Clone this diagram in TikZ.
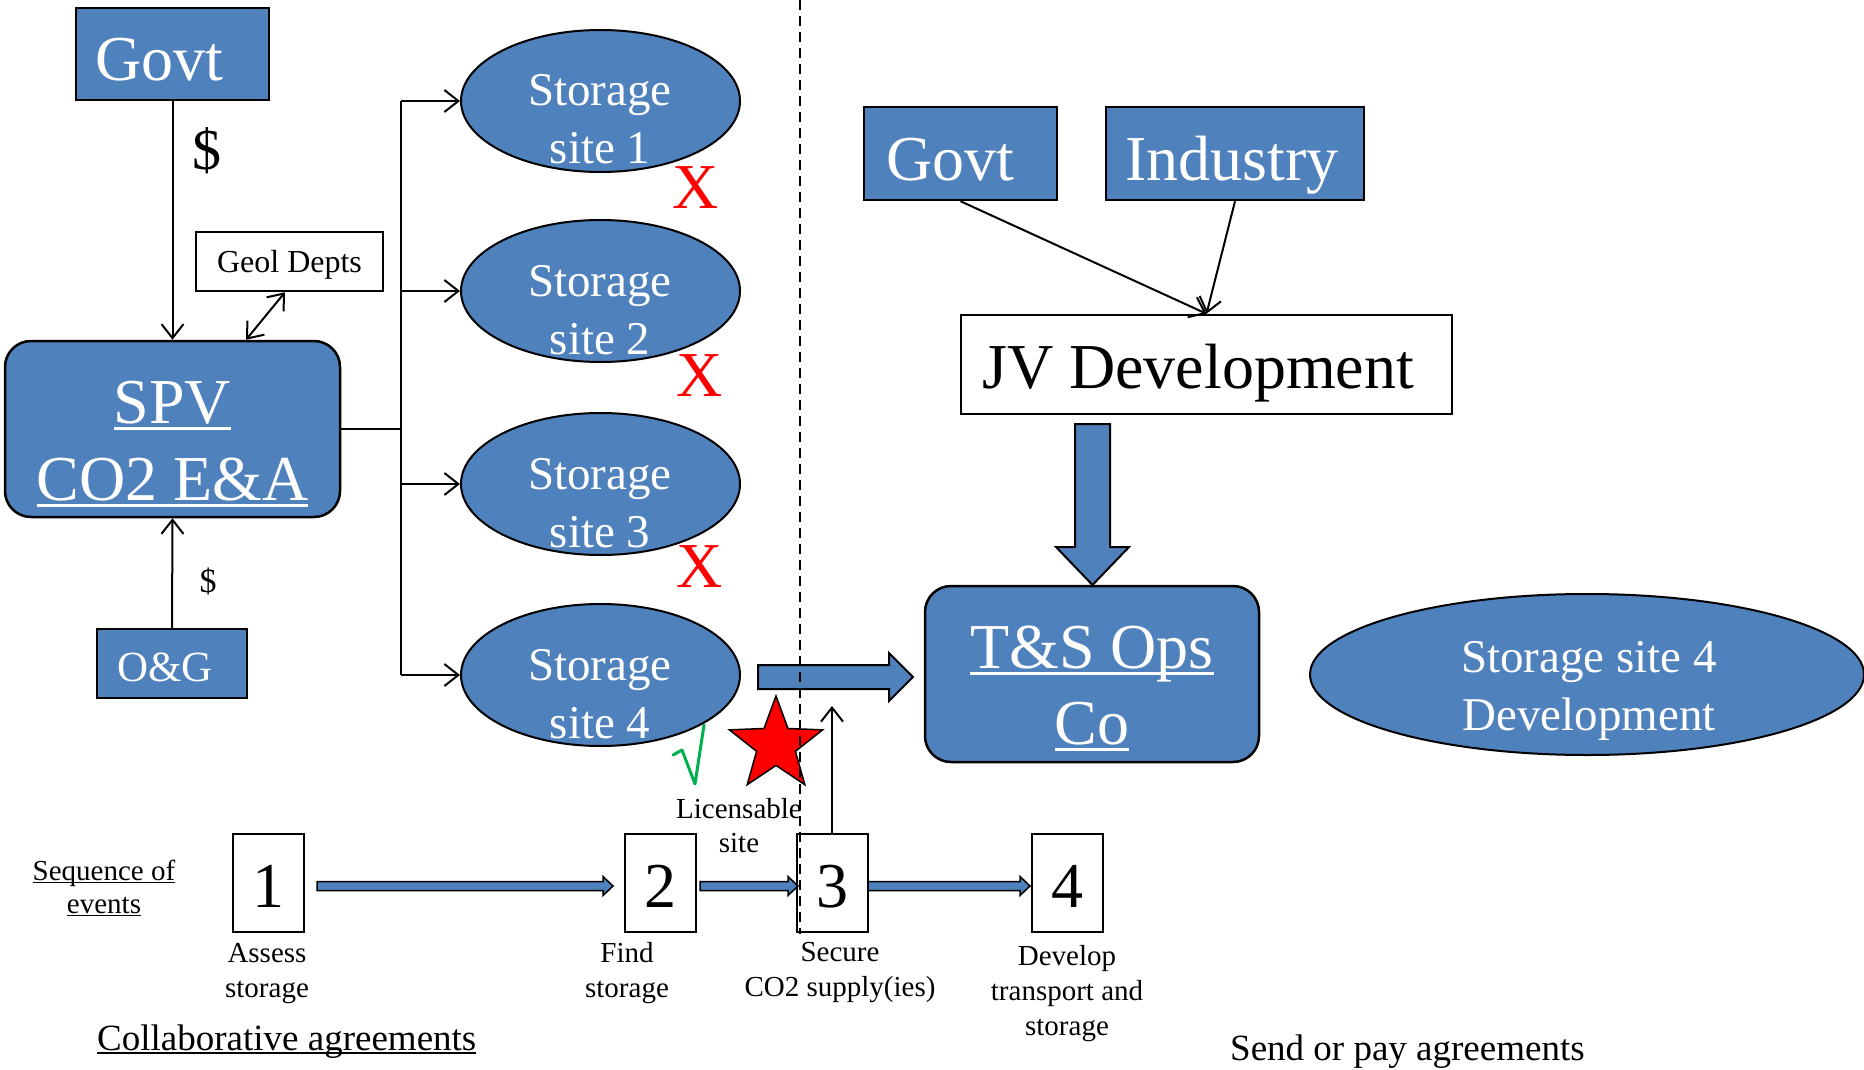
\documentclass[tikz,border=0pt]{standalone}
\usepackage{fontspec}
\setmainfont{Liberation Serif}
\usetikzlibrary{arrows.meta,shapes.geometric,calc}
\definecolor{bluefill}{RGB}{79,129,189}
\definecolor{chkgreen}{RGB}{0,176,80}
\newcommand{\fsz}[1]{\fontsize{#1}{#1}\selectfont}
\newcommand{\myul}[1]{\leavevmode\setbox0=\hbox{#1}\rlap{\rule[-0.115em]{\wd0}{0.06em}}\box0}
\newcommand{\seqarrow}[2]{\draw[seqarr] (#1,881.5) -- ({#2-10},881.5) -- ({#2-10},876.5) -- (#2,886) -- ({#2-10},895.5) -- ({#2-10},890.5) -- (#1,890.5) -- cycle;}
\begin{document}
\begin{tikzpicture}[x=1pt,y=-1pt,
  bluebox/.style={draw=black,line width=2.5pt,fill=bluefill,inner sep=0pt},
  whitebox/.style={draw=black,line width=2.5pt,fill=white,inner sep=0pt},
  seqbox/.style={draw=black,line width=2pt,fill=white,inner sep=0pt,minimum width=71pt,minimum height=98pt},
  siteell/.style={ellipse,draw=black,line width=2pt,fill=bluefill,inner sep=0pt,minimum width=279pt,minimum height=142pt},
  tw/.style={anchor=base,inner sep=0pt,text=white},
  tb/.style={anchor=base,inner sep=0pt,text=black},
  arr/.style={line width=2pt,-{Straight Barb[length=14pt,width=22pt]}},
  dbl/.style={line width=2pt,{Straight Barb[length=14pt,width=22pt]}-{Straight Barb[length=14pt,width=22pt]}},
  conn/.style={line width=2.5pt},
  blk/.style={draw=black,line width=2pt,fill=bluefill,line join=miter},
  seqarr/.style={draw=black,line width=1.5pt,fill=bluefill},
  redx/.style={anchor=base,inner sep=0pt,text=red,font={\fsz{64}}},
]
\useasboundingbox (0,0) rectangle (1864,1070);

% ---- left part ----
\node[bluebox,minimum width=193pt,minimum height=92pt] (govtL) at (172.5,54) {};
\node[tw,anchor=base west,font={\fsz{64}}] (govtLt) at (95,81) {Govt};
\node[tb,font={\fsz{58}}] (dollar1) at (207,170) {\$};

\node[whitebox,minimum width=187pt,minimum height=59pt] (geol) at (289.5,261.5) {};
\node[tb,font={\fsz{32}}] (geolt) at (289.5,272) {Geol Depts};

\node[bluebox,rounded corners=26pt,minimum width=335pt,minimum height=176pt] (spv) at (172.5,429) {};
\node[tw,font={\fsz{64}}] (spvt1) at (172.5,423) {\myul{SPV}};
\node[tw,font={\fsz{64}}] (spvt2) at (172.5,500) {\myul{CO2 E\&A}};

\node[bluebox,minimum width=150pt,minimum height=69pt] (og) at (172,663.5) {};
\node[tw,anchor=base west,font={\fsz{43}}] (ogt) at (117,681) {O\&G};
\node[tb,font={\fsz{34}}] (dollar2) at (208,592) {\$};

\draw[arr] (govtL.south) -- (spv.north);
\draw[arr] (og.north) -- (spv.south);
\draw[dbl] ($(geol.south)+(-4.5,0)$) -- ($(spv.north)+(73.5,0)$);

% storage sites
\node[siteell] (s1) at (600.5,101) {};
\node[siteell] (s2) at (600.5,291) {};
\node[siteell] (s3) at (600.5,484) {};
\node[siteell] (s4) at (600.5,675) {};
\foreach \n/\cy in {1/101,2/291,3/484,4/675}{
  \node[tw,font={\fsz{47}}] (s\n a) at (600,\cy+5) {Storage};
  \node[tw,font={\fsz{47}}] (s\n b) at (600,\cy+63) {site \n};
}
\coordinate (br) at (401,429);
\coordinate (brtop) at (401,101);
\coordinate (brbot) at (401,675);
\draw[conn] (spv.east) -- (br);
\draw[conn] (brtop) -- (brbot);
\draw[arr] (s1.west -| br) -- (s1.west);
\draw[arr] (s2.west -| br) -- (s2.west);
\draw[arr] (s3.west -| br) -- (s3.west);
\draw[arr] (s4.west -| br) -- (s4.west);

\node[redx] (x1) at (696,208) {X};
\node[redx] (x2) at (700,396) {X};
\node[redx] (x3) at (700,587) {X};

% check mark
\draw[chkgreen,line width=3pt,line join=round,line cap=round] (673,755) -- (682,750) -- (695,784) -- (704,725);

% star
\node[star,star points=5,star point ratio=2.4,minimum size=98pt,inner sep=0pt,fill=red,draw=black,line width=1.5pt] (star1) at (776,745) {};

\node[tb,font={\fsz{29}}] (lic1) at (739,818) {Licensable};
\node[tb,font={\fsz{29}}] (lic2) at (739,852) {site};

% big arrow to T&S
\draw[blk] (758,665) -- (889,665) -- (889,653) -- (913,677) -- (889,701) -- (889,689) -- (758,689) -- cycle;

% ---- right part ----
\node[bluebox,minimum width=193pt,minimum height=93pt] (govtR) at (960.5,153.5) {};
\node[tw,anchor=base west,font={\fsz{64}}] (govtRt) at (886,181) {Govt};
\node[bluebox,minimum width=258pt,minimum height=93pt] (ind) at (1235,153.5) {};
\node[tw,anchor=base west,font={\fsz{64}}] (indt) at (1125,181) {Industry};

\node[whitebox,minimum width=491pt,minimum height=99pt] (jv) at (1206.5,364.5) {};
\node[tb,anchor=base west,font={\fsz{64}}] (jvt) at (982,388) {JV Development};
\draw[arr] (govtR.south) -- (jv.north);
\draw[arr] (ind.south) -- (jv.north);

\draw[blk] (1075,424) -- (1110,424) -- (1110,547) -- (1129,547) -- (1092.5,585) -- (1056,547) -- (1075,547) -- cycle;

\node[bluebox,rounded corners=26pt,minimum width=334pt,minimum height=176pt] (ts) at (1092,674) {};
\node[tw,font={\fsz{64}}] (tst1) at (1092,668) {\myul{T\&S Ops}};
\node[tw,font={\fsz{64}}] (tst2) at (1092,744) {\myul{Co}};

\node[ellipse,draw=black,line width=2pt,fill=bluefill,inner sep=0pt,minimum width=554pt,minimum height=161pt] (s4dev) at (1587,674.5) {};
\node[tw,font={\fsz{47}}] (s4devt1) at (1589,672) {Storage site 4};
\node[tw,font={\fsz{47}}] (s4devt2) at (1589,730) {Development};

% ---- sequence of events ----
\node[tb,font={\fsz{29}}] (seq1) at (104,880) {\myul{Sequence of}};
\node[tb,font={\fsz{29}}] (seq2) at (104,913) {\myul{events}};

\node[seqbox] (b1) at (268,883) {};
\node[seqbox] (b2) at (660,883) {};
\node[seqbox] (b3) at (832,883) {};
\node[seqbox] (b4) at (1067,883) {};
\node[tb,font={\fsz{64}}] (n1) at (268,907) {1};
\node[tb,font={\fsz{64}}] (n2) at (660,907) {2};
\node[tb,font={\fsz{64}}] (n3) at (832,907) {3};
\node[tb,font={\fsz{64}}] (n4) at (1067,907) {4};

\seqarrow{317}{613}
\seqarrow{700}{798}
\seqarrow{868}{1030}

\coordinate (up3) at (832,706);
\draw[arr] (b3.north) -- (up3);

\node[tb,font={\fsz{29}}] (l1a) at (267,962) {Assess};
\node[tb,font={\fsz{29}}] (l1b) at (267,997) {storage};
\node[tb,font={\fsz{29}}] (l2a) at (627,962) {Find};
\node[tb,font={\fsz{29}}] (l2b) at (627,997) {storage};
\node[tb,font={\fsz{29}}] (l3a) at (840,961) {Secure};
\node[tb,font={\fsz{29}}] (l3b) at (840,996) {CO2 supply(ies)};
\node[tb,font={\fsz{29}}] (l4a) at (1067,965) {Develop};
\node[tb,font={\fsz{29}}] (l4b) at (1067,1000) {transport and};
\node[tb,font={\fsz{29}}] (l4c) at (1067,1035) {storage};

\node[tb,anchor=base west,font={\fsz{37}}] (collab) at (97,1050) {\myul{Collaborative agreements}};
\node[tb,anchor=base west,font={\fsz{37}}] (sendpay) at (1230,1060) {Send or pay agreements};

% dashed divider
\coordinate (dtop) at (800,0);
\coordinate (dbot) at (800,934);
\draw[line width=2pt,dash pattern=on 10pt off 6pt] (dtop) -- (dbot);
\end{tikzpicture}
\end{document}
